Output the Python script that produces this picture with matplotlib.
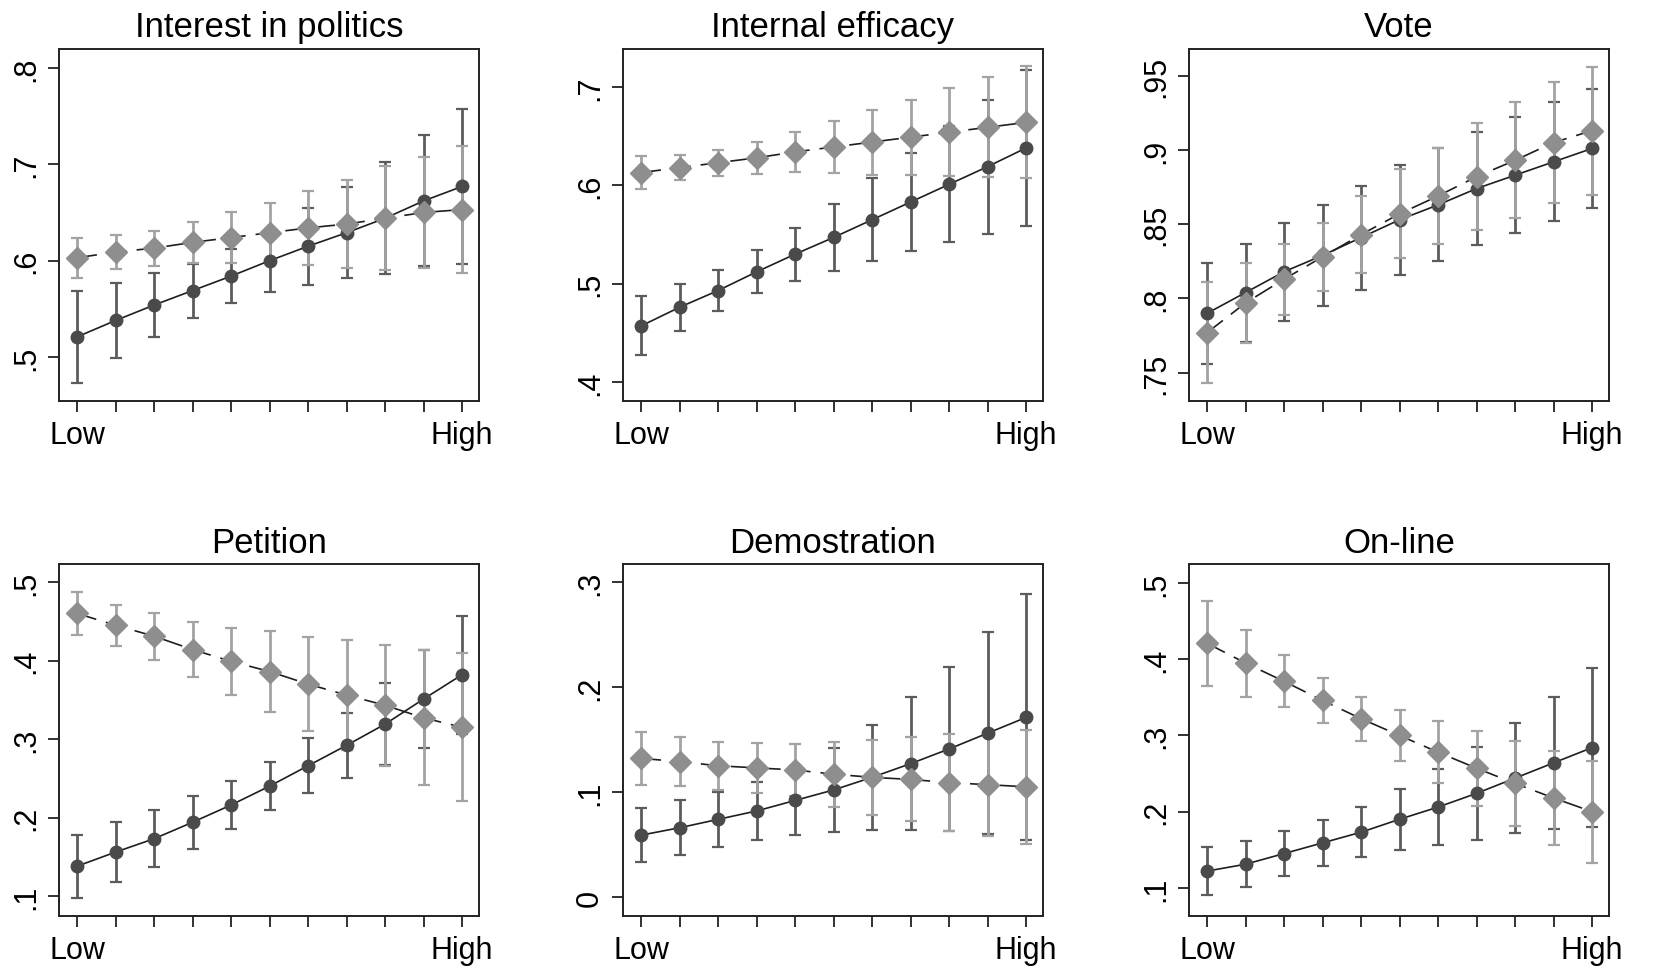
import matplotlib
matplotlib.use("Agg")
import matplotlib.pyplot as plt
import numpy as np

plt.rcParams["font.family"] = ["Liberation Sans", "DejaVu Sans"]

# x positions: 11 levels from Low to High
levels = np.arange(11)
xlabels = ["Low"] + [""] * 9 + ["High"]

# Interest in politics
interest_dark = [.521, .538, .554, .569, .584, .600, .615, .629, .644, .662, .677]
interest_dark_ci = [.048, .039, .033, .028, .028, .032, .040, .047, .058, .068, .080]
interest_gray = [.603, .609, .613, .619, .624, .629, .634, .638, .644, .650, .653]
interest_gray_ci = [.021, .018, .018, .021, .026, .031, .038, .046, .054, .058, .066]

# Internal efficacy
efficacy_dark = [.457, .476, .493, .512, .530, .547, .565, .583, .601, .619, .638]
efficacy_dark_ci = [.030, .024, .021, .022, .027, .034, .042, .050, .059, .068, .079]
efficacy_gray = [.613, .618, .623, .628, .634, .639, .644, .649, .654, .659, .664]
efficacy_gray_ci = [.017, .013, .013, .016, .020, .026, .033, .038, .045, .051, .057]

# Vote
vote_dark = [.790, .804, .818, .829, .841, .853, .863, .874, .883, .892, .901]
vote_dark_ci = [.034, .033, .033, .034, .035, .037, .038, .038, .039, .040, .040]
vote_gray = [.777, .797, .813, .828, .843, .857, .869, .882, .893, .905, .913]
vote_gray_ci = [.034, .027, .024, .023, .026, .030, .032, .036, .039, .041, .043]

# Petition
petition_dark = [.138, .156, .173, .194, .216, .240, .266, .292, .319, .351, .382]
petition_dark_ci = [.040, .038, .036, .034, .031, .031, .035, .041, .052, .063, .075]
petition_gray = [.460, .445, .431, .414, .399, .386, .370, .356, .343, .327, .315]
petition_gray_ci = [.027, .026, .030, .035, .043, .052, .060, .070, .077, .086, .094]

# Demostration
demo_dark = [.059, .066, .074, .082, .092, .102, .114, .127, .141, .156, .171]
demo_dark_ci = [.026, .026, .026, .028, .033, .040, .050, .063, .078, .096, .117]
demo_gray = [.132, .129, .125, .123, .121, .117, .114, .112, .109, .107, .105]
demo_gray_ci = [.025, .023, .023, .024, .025, .031, .036, .040, .046, .049, .054]

# On-line
online_dark = [.122, .131, .145, .159, .173, .190, .206, .224, .244, .264, .284]
online_dark_ci = [.031, .030, .029, .030, .033, .040, .050, .061, .072, .087, .104]
online_gray = [.421, .395, .371, .346, .322, .300, .278, .257, .237, .218, .200]
online_gray_ci = [.056, .044, .034, .029, .029, .034, .041, .049, .056, .062, .067]

titles = ["Interest in politics", "Internal efficacy", "Vote",
          "Petition", "Demostration", "On-line"]
yticks = [[.5, .6, .7, .8], [.4, .5, .6, .7], [.75, .8, .85, .9, .95],
          [.1, .2, .3, .4, .5], [0, .1, .2, .3], [.1, .2, .3, .4, .5]]
yticklabels = [[".5", ".6", ".7", ".8"], [".4", ".5", ".6", ".7"],
               [".75", ".8", ".85", ".9", ".95"],
               [".1", ".2", ".3", ".4", ".5"], ["0", ".1", ".2", ".3"],
               [".1", ".2", ".3", ".4", ".5"]]
ylims = [(0.4545, 0.8196), (0.3807, 0.7387), (0.731, 0.968),
         (0.0745, 0.523), (-0.018, 0.317), (0.063, 0.525)]

panels = [
    (interest_dark, interest_dark_ci, interest_gray, interest_gray_ci),
    (efficacy_dark, efficacy_dark_ci, efficacy_gray, efficacy_gray_ci),
    (vote_dark, vote_dark_ci, vote_gray, vote_gray_ci),
    (petition_dark, petition_dark_ci, petition_gray, petition_gray_ci),
    (demo_dark, demo_dark_ci, demo_gray, demo_gray_ci),
    (online_dark, online_dark_ci, online_gray, online_gray_ci),
]

# axes boxes in figure fractions
lefts = [0.0353, 0.3726, 0.7111]
bottoms = [0.5856, 0.0546]
width, height = 0.2512, 0.3629

fig = plt.figure(figsize=(16.72, 9.70), dpi=100)

for i, (dark, dark_ci, gray, gray_ci) in enumerate(panels):
    ax = fig.add_axes([lefts[i % 3], bottoms[i // 3], width, height])

    ax.errorbar(levels, dark, yerr=dark_ci, fmt="none", ecolor="#5c5c5c",
                elinewidth=2, capsize=4, capthick=1.6, zorder=2)
    ax.errorbar(levels, gray, yerr=gray_ci, fmt="none", ecolor="#a3a3a3",
                elinewidth=2, capsize=4, capthick=1.6, zorder=2)
    ax.plot(levels, dark, "-", color="#1e1e1e", lw=1.2, zorder=3)
    ax.plot(levels, dark, "o", color="#4a4a4a", ms=9, mec="#4a4a4a", zorder=4)
    ax.plot(levels, gray, color="#1e1e1e", lw=1.2, dashes=(12, 6), zorder=3)
    ax.plot(levels, gray, "D", color="#8e8e8e", ms=11, mec="#8e8e8e", zorder=5)

    ax.set_xlim(-0.47, 10.44)
    ax.set_ylim(*ylims[i])
    ax.set_xticks(levels)
    ax.set_xticklabels(xlabels)
    ax.set_yticks(yticks[i])
    ax.set_yticklabels(yticklabels[i], rotation=90, va="center")
    ax.tick_params(axis="both", length=8, width=1.3, labelsize=22, color="#222222")
    ax.tick_params(axis="x", pad=6)
    ax.tick_params(axis="y", pad=5)
    for s in ax.spines.values():
        s.set_linewidth(1.4)
        s.set_color("#222222")
    ax.set_title(titles[i], fontsize=25, pad=9)

plt.savefig("out.png", dpi=100)
